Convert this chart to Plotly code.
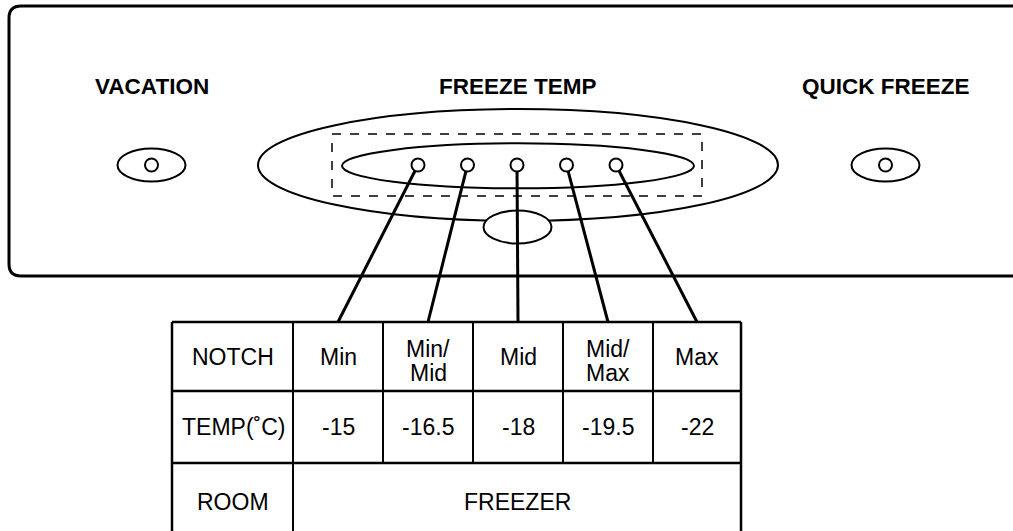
import plotly.graph_objects as go

# ---- data ----
button_labels = ["VACATION", "FREEZE TEMP", "QUICK FREEZE"]
notch_labels = ["Min", "Min/Mid", "Mid", "Mid/Max", "Max"]
temps_c = [-15, -16.5, -18, -19.5, -22]
row_headers = ["NOTCH", "TEMP(˚C)", "ROOM"]
room_name = "FREEZER"

# ---- layout geometry (pixel space of the page) ----
W, H = 1013, 531
FONT = "Liberation Sans, Arial, Helvetica, sans-serif"
INK = "#000000"

panel = dict(x0=9, y0=6, y1=276, r=12)
label_y = 86
button_x = [151.5, 517.5, 885.5]
ctrl_y = 165

col_x = [172, 293, 383, 473, 563, 653, 741]
row_y = [322, 391, 463, 545]

shapes = []
annotations = []


def ellipse(cx, cy, w, h, width=2, fill="rgba(0,0,0,0)", dash="solid"):
    shapes.append(dict(type="circle", xref="x", yref="y",
                       x0=cx - w / 2, x1=cx + w / 2, y0=cy - h / 2, y1=cy + h / 2,
                       line=dict(color=INK, width=width, dash=dash),
                       fillcolor=fill, layer="above"))


def seg(x0, y0, x1, y1, width=2):
    shapes.append(dict(type="line", xref="x", yref="y", x0=x0, y0=y0, x1=x1, y1=y1,
                       line=dict(color=INK, width=width), layer="above"))


def text(x, y, s, size=23, bold=False):
    annotations.append(dict(x=x, y=y, xref="x", yref="y", text=(f"<b>{s}</b>" if bold else s),
                            showarrow=False, xanchor="center", yanchor="middle",
                            font=dict(family=FONT, size=size, color=INK)))


# panel (rounded left corners, right side runs off the page)
p = panel
shapes.append(dict(type="path", xref="x", yref="y",
                   path=(f"M 1060,{p['y0']} L {p['x0']+p['r']},{p['y0']} "
                         f"Q {p['x0']},{p['y0']} {p['x0']},{p['y0']+p['r']} "
                         f"L {p['x0']},{p['y1']-p['r']} "
                         f"Q {p['x0']},{p['y1']} {p['x0']+p['r']},{p['y1']} L 1060,{p['y1']}"),
                   line=dict(color=INK, width=3), layer="above"))

# button labels
for bx, lab in zip(button_x, button_labels):
    text(bx, label_y, lab, size=22.5, bold=True)

# side buttons
for bx in (button_x[0], button_x[2]):
    ellipse(bx, ctrl_y, 68, 33, width=2)
    ellipse(bx, ctrl_y, 13, 13, width=2)

# freeze-temp control
cx = 518
ellipse(cx, ctrl_y, 520, 112, width=2)
shapes.append(dict(type="rect", xref="x", yref="y", x0=332, x1=702, y0=134, y1=196,
                   line=dict(color=INK, width=1.5, dash="dash"), layer="above"))
ellipse(cx, 165.8, 352, 45, width=2)
ellipse(517.5, 227, 68, 33, width=2, fill="white")

# notch indicators and connector lines
spacing = 49.5
r_notch = 6.5
col_centers = [(col_x[i + 1] + col_x[i + 2]) / 2 for i in range(len(notch_labels))]
for i, lab in enumerate(notch_labels):
    nx = cx - 1 + (i - 2) * spacing
    tx = col_centers[i]
    dx, dy = tx - nx, row_y[0] - ctrl_y
    L = (dx * dx + dy * dy) ** 0.5
    seg(nx + r_notch * dx / L, ctrl_y + r_notch * dy / L, tx, row_y[0], width=3)
    ellipse(nx, ctrl_y, 2 * r_notch, 2 * r_notch, width=2, fill="white")

# table grid
for yy in row_y[:3]:
    seg(col_x[0], yy, col_x[-1], yy, width=2.5)
seg(col_x[0], row_y[0], col_x[0], H + 10, width=2.5)
seg(col_x[-1], row_y[0], col_x[-1], H + 10, width=2.5)
seg(col_x[1], row_y[0], col_x[1], H + 10, width=2)
for xx in col_x[2:-1]:
    seg(xx, row_y[0], xx, row_y[2], width=2)

# table texts
row_mid = [(row_y[i] + row_y[i + 1]) / 2 for i in range(2)] + [501.5]
hdr_x = (col_x[0] + col_x[1]) / 2
for j, h in enumerate(row_headers):
    text(hdr_x + (1 if j == 1 else 0), row_mid[j], h)

for i, lab in enumerate(notch_labels):
    parts = lab.split("/")
    if len(parts) == 2:
        text(col_centers[i], row_mid[0] - 8, parts[0] + "/")
        text(col_centers[i], row_mid[0] + 16, parts[1])
    else:
        text(col_centers[i], row_mid[0], lab)

for i, t in enumerate(temps_c):
    text(col_centers[i], row_mid[1], f"{t:g}")

text((col_x[1] + col_x[-1]) / 2, row_mid[2], room_name)

fig = go.Figure()
fig.update_layout(
    width=W, height=H,
    margin=dict(l=0, r=0, t=0, b=0),
    paper_bgcolor="white", plot_bgcolor="white",
    xaxis=dict(range=[0, W], visible=False, fixedrange=True),
    yaxis=dict(range=[H, 0], visible=False, fixedrange=True),
    shapes=shapes, annotations=annotations, showlegend=False,
)
fig.write_html(
    "out.html",
    config={"displayModeBar": False, "staticPlot": True},
    post_script="document.body.style.margin='0';document.body.style.overflow='hidden';",
)
